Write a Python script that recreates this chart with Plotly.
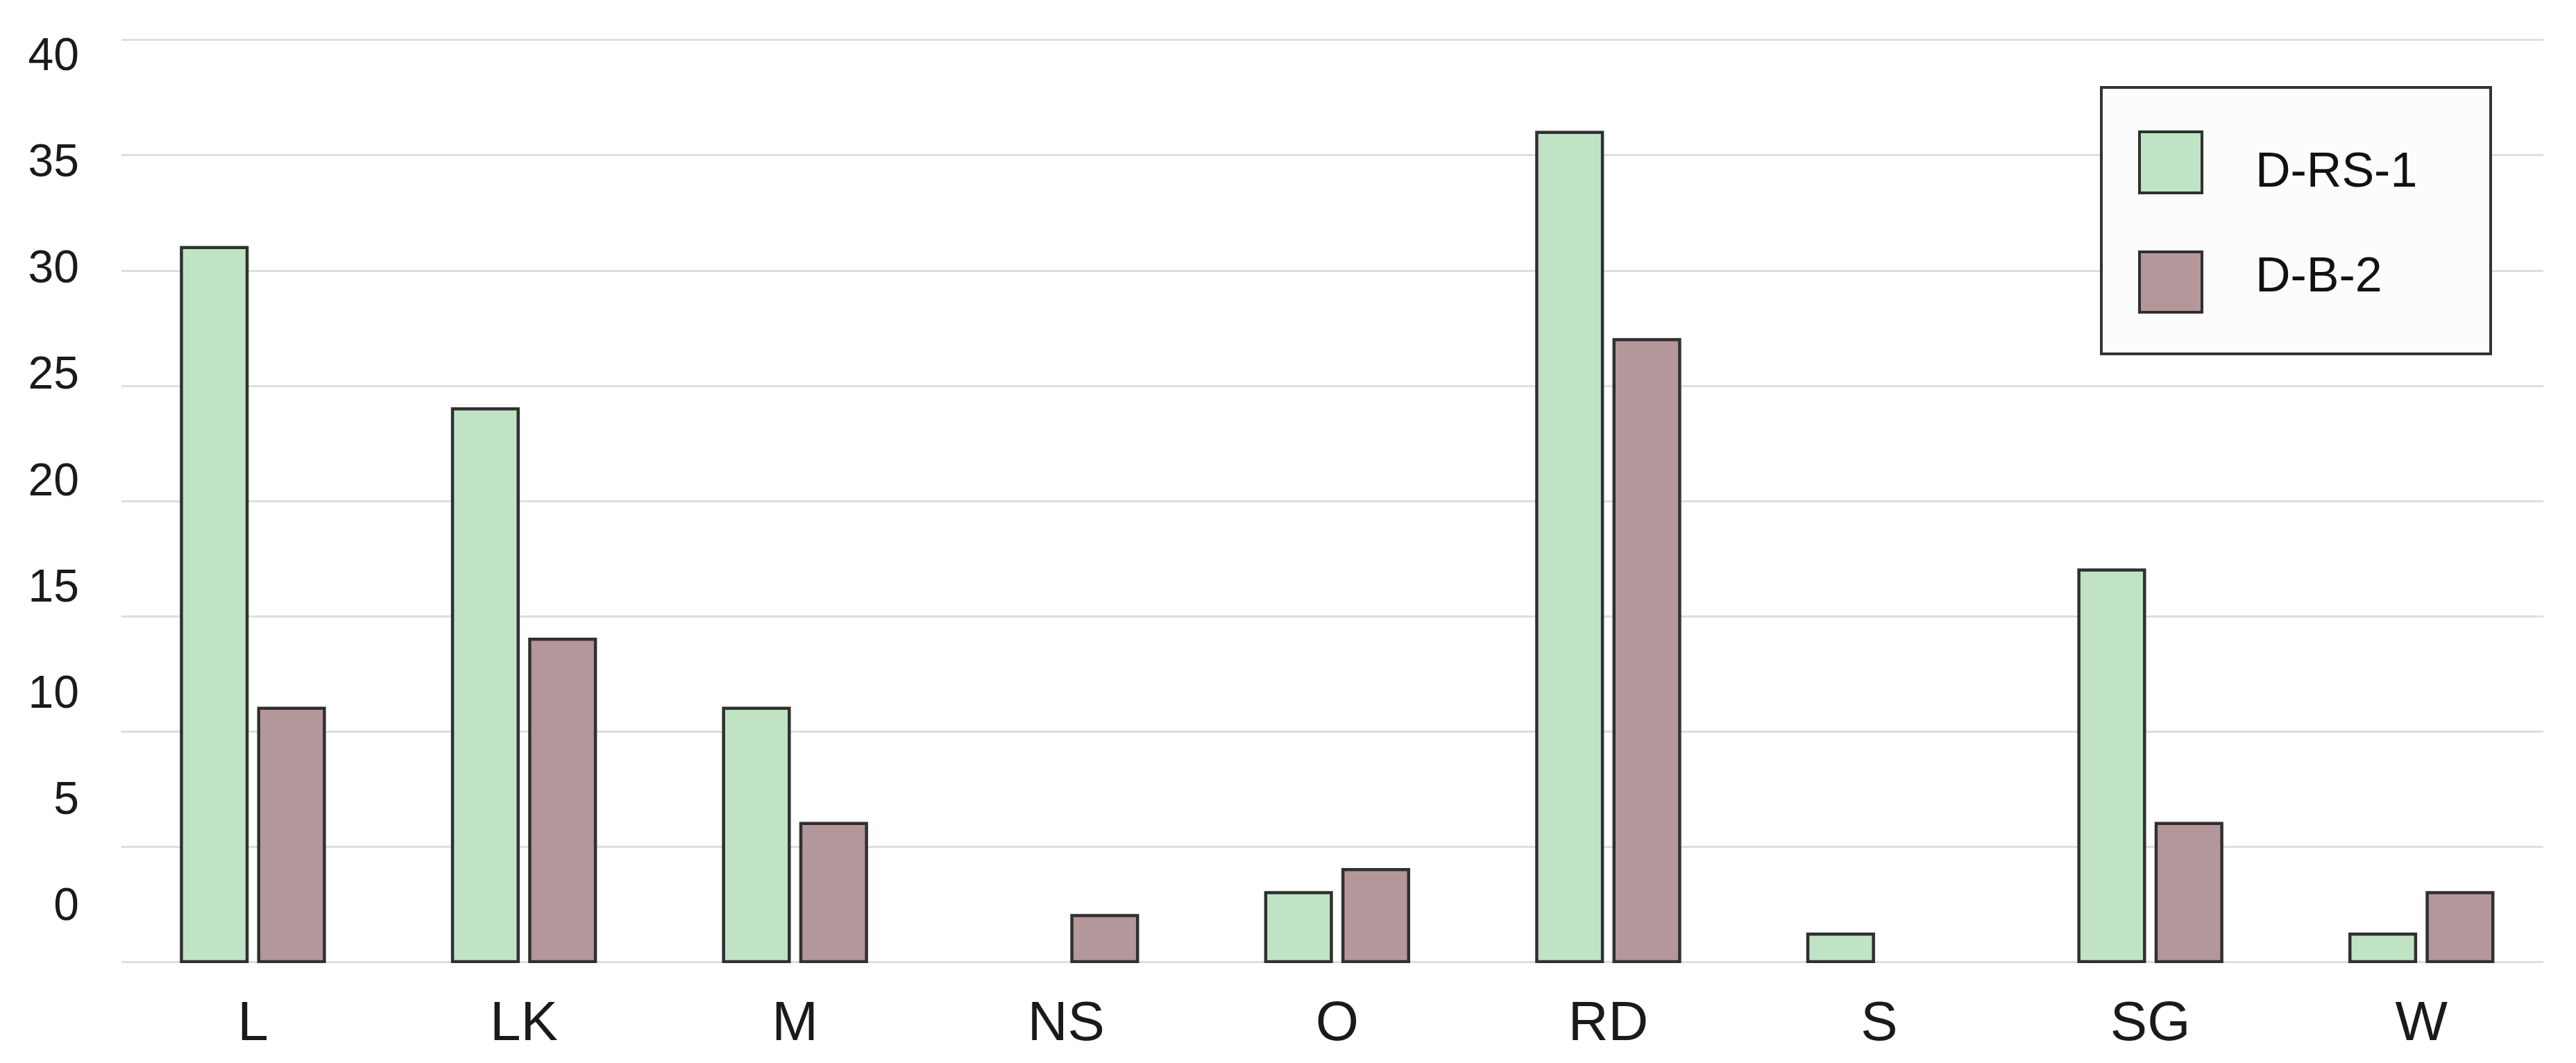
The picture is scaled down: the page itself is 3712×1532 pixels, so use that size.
import plotly.graph_objects as go

# ---- data ----
categories = ["L", "LK", "M", "NS", "O", "RD", "S", "SG", "W"]
series_names = ["D-RS-1", "D-B-2"]
d_rs_1 = [31, 24, 11, 0, 3, 36, 1.2, 17, 1.2]
d_b_2 = [11, 14, 6, 2, 4, 27, 0, 6, 3]
y_ticks = [0, 5, 10, 15, 20, 25, 30, 35, 40]
y_tick_labels = ["0", "5", "10", "15", "20", "25", "30", "35", "40"]

colors = ["#c0e3c6", "#b4979b"]
outline = "#303030"
FONT = "Liberation Sans, Arial, sans-serif"


def nz(vals):
    # absent bars (0) are not drawn at all in the reference
    return [v if v != 0 else None for v in vals]


fig = go.Figure()
for name, vals, col in zip(series_names, [d_rs_1, d_b_2], colors):
    fig.add_trace(go.Bar(
        x=categories, y=nz(vals), name=name,
        marker=dict(color=col, line=dict(color=outline, width=4.5)),
        showlegend=False,
    ))

# invisible trace to carry the label axis
fig.add_trace(go.Scatter(
    x=[categories[0]], y=[0], yaxis="y2", mode="markers",
    marker=dict(opacity=0), showlegend=False, hoverinfo="skip",
))

fig.update_layout(
    width=3712, height=1532,
    margin=dict(l=167, r=55, t=48, b=152),
    paper_bgcolor="white", plot_bgcolor="white",
    barmode="group", bargap=0.43, bargroupgap=0.15,
    font=dict(family=FONT, color="#1a1a1a"),
    xaxis=dict(
        type="category", range=[-0.485, 8.45],
        showgrid=False, showline=False, zeroline=False,
        ticks="", tickfont=dict(size=80, family=FONT, color="#1a1a1a"),
        ticklabelstandoff=30,
    ),
    yaxis=dict(
        range=[-0.06, 40.06], tickvals=y_ticks, showticklabels=False,
        showgrid=True, gridcolor="#dedede", gridwidth=3,
        zeroline=False, showline=False, ticks="",
    ),
    yaxis2=dict(
        overlaying="y", side="left", anchor="x",
        range=[-2.78, 40.72], tickvals=y_ticks, ticktext=y_tick_labels,
        showgrid=False, zeroline=False, showline=False, ticks="",
        tickfont=dict(size=66, family=FONT, color="#1a1a1a"),
        ticklabelstandoff=60,
    ),
)

# ---- legend drawn as boxed swatches ----
def px_x(p):
    return (p - 167) / 3490.0


def px_y(p):
    return (1380 - p) / 1332.0


fig.add_shape(type="rect", xref="paper", yref="paper",
              x0=px_x(3020), x1=px_x(3581), y0=px_y(502), y1=px_y(118),
              line=dict(color="#333333", width=4), fillcolor="#fcfcfc", layer="above")

swatch_rows = [(182, 270, 237), (355, 442, 388)]
for (top, bot, mid), name, col in zip(swatch_rows, series_names, colors):
    fig.add_shape(type="rect", xref="paper", yref="paper",
                  x0=px_x(3075), x1=px_x(3165), y0=px_y(bot), y1=px_y(top),
                  line=dict(color=outline, width=4), fillcolor=col, layer="above")
    fig.add_annotation(xref="paper", yref="paper", x=px_x(3240), y=px_y(mid),
                       text=name, showarrow=False, xanchor="left", yanchor="middle",
                       font=dict(size=70, family=FONT, color="#111111"))

fig.write_html("out.html")
